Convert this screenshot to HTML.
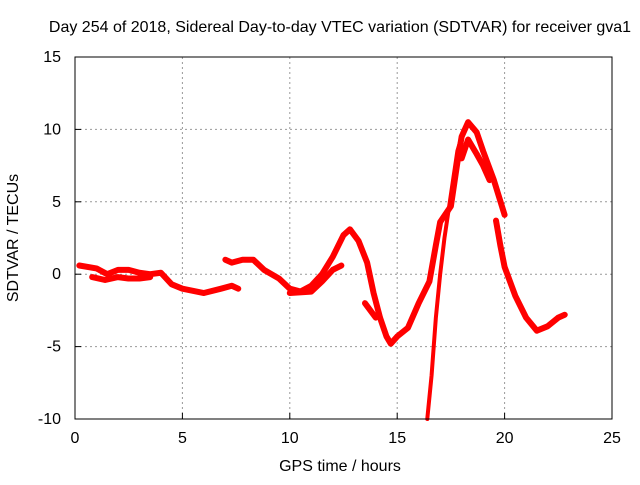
<!DOCTYPE html>
<html><head><meta charset="utf-8"><style>body{margin:0;background:#fff}svg text{font-family:"Liberation Sans",sans-serif;font-size:16px;fill:#000}</style></head>
<body>
<svg width="640" height="480" id="c">
<text x="340" y="32" text-anchor="middle">Day 254 of 2018, Sidereal Day-to-day VTEC variation (SDTVAR) for receiver gva1</text>
<text x="340" y="471" text-anchor="middle">GPS time / hours</text>
<text transform="translate(18,238) rotate(-90)" text-anchor="middle">SDTVAR / TECUs</text>
<g id="grid"></g><g id="ticks"></g><g id="series"></g>
<rect x="75" y="57" width="537" height="362" fill="none" stroke="#000" stroke-width="1"/>
</svg>
<script>
const xTicks=[0,5,10,15,20,25];
const yTicks=[-10,-5,0,5,10,15];
const segA=[[0.2,0.6],[1,0.4],[1.5,0],[2,0.3],[2.5,0.3],[3,0.1],[3.5,0],[4,0.1],[4.5,-0.7],[5,-1],[6,-1.3],[6.8,-1],[7.3,-0.8],[7.6,-1]];
const segLow=[[0.8,-0.2],[1.4,-0.4],[2,-0.2],[2.5,-0.3],[3,-0.3],[3.5,-0.2]];
const segB=[[7,1.0],[7.3,0.8],[7.8,1.0],[8.3,1.0],[8.8,0.3],[9.5,-0.3],[10,-1.0],[10.5,-1.2],[11,-0.8],[11.5,0],[12,1.2],[12.5,2.7],[12.8,3.1],[13.2,2.3],[13.6,0.8],[13.9,-1.3],[14.2,-3],[14.5,-4.3],[14.7,-4.8],[15,-4.3],[15.5,-3.7],[16,-2],[16.5,-0.5],[16.8,2],[17,3.6],[17.5,4.7],[17.8,7.7],[18,9.5],[18.3,10.5],[18.7,9.8],[19,8.5],[19.5,6.5],[20,4.1]];
const segPeak2=[[18,8],[18.3,9.3],[18.7,8.3],[19,7.5],[19.3,6.5]];
const segC=[[10,-1.3],[11,-1.2],[11.5,-0.5],[12,0.3],[12.4,0.6]];
const segD=[[13.5,-2],[14,-3]];
const segE=[[16.4,-10],[16.6,-7],[16.8,-3],[17,0],[17.2,2.5],[17.4,4.5],[17.6,6.5],[17.8,8.5],[18,9.5]];
const segF=[[19.6,3.7],[19.8,2],[20,0.5],[20.5,-1.5],[21,-3],[21.5,-3.9],[22,-3.6],[22.5,-3],[22.8,-2.8]];
const X=h=>75+h*(537/25), Y=v=>419-(v+10)*(362/25);
const NS="http://www.w3.org/2000/svg";
const g=document.getElementById('grid'),t=document.getElementById('ticks'),s=document.getElementById('series');
function mk(tag,a,p){const e=document.createElementNS(NS,tag);for(const k in a)e.setAttribute(k,a[k]);p.appendChild(e);return e;}
xTicks.forEach(v=>{
 if(v>0&&v<25){const l=mk('line',{x1:X(v),x2:X(v),y1:57,y2:419,stroke:'#999','stroke-dasharray':'2,3'},g);
 
 }
 mk('line',{x1:X(v),x2:X(v),y1:419,y2:413,stroke:'#000'},t);
 const tx=mk('text',{x:X(v),y:443,'text-anchor':'middle'},t);tx.textContent=v;
 
 
});
yTicks.forEach(v=>{
 if(v>-10&&v<15){const l=mk('line',{x1:75,x2:612,y1:Y(v),y2:Y(v),stroke:'#999','stroke-dasharray':'2,3'},g);
 
 }
 mk('line',{x1:75,x2:81,y1:Y(v),y2:Y(v),stroke:'#000'},t);
 const tx=mk('text',{x:61,y:Y(v)+5,'text-anchor':'end'},t);tx.textContent=v;
 
 
});
[segA,segLow,segB,segPeak2,segC,segD,segE,segF].forEach((seg,i)=>{
 const p=mk('polyline',{points:seg.map(d=>X(d[0])+','+Y(d[1])).join(' '),fill:'none',stroke:'#f00','stroke-width':i==6?4:6,'stroke-linejoin':'round','stroke-linecap':'round'},s);
 
 
});
</script>
</body></html>
